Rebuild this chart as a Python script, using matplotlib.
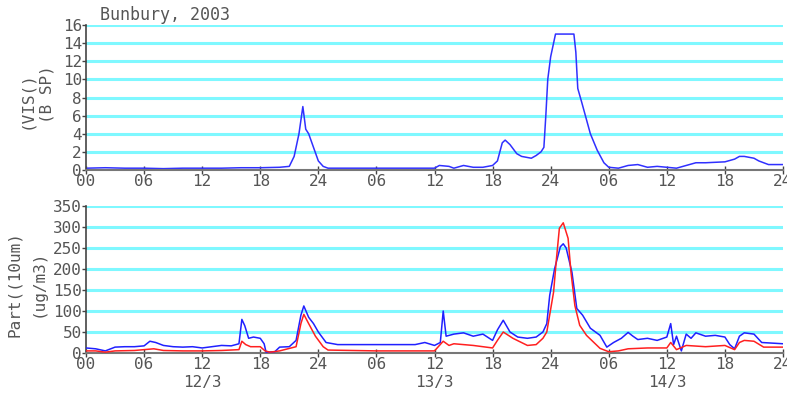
import matplotlib
matplotlib.use("Agg")
import matplotlib.pyplot as plt

# ---- data ----
vis_pts = [(0,0.2),(2,0.25),(4,0.2),(6,0.2),(8,0.15),(10,0.2),(12,0.2),(14,0.2),(16,0.25),(18,0.25),
           (20,0.3),(21,0.4),(21.5,1.5),(22,4),(22.4,7),(22.7,4.5),(23,4),(23.5,2.5),(24,1),(24.5,0.4),
           (25,0.2),(28,0.2),(32,0.2),(36,0.2),(36.5,0.5),(37.5,0.4),(38,0.2),(39,0.5),(40,0.3),(41,0.3),
           (42,0.5),(42.5,1),(43,3),(43.3,3.3),(43.8,2.8),(44.5,1.8),(45,1.5),(46,1.3),(46.5,1.6),(47,2.0),
           (47.3,2.5),(47.5,6),(47.7,10),(48,12.5),(48.3,14),(48.5,15),(50.4,15),(50.6,13),(50.8,9),
           (51.2,7.5),(52.1,4),(52.8,2.2),(53.5,0.8),(54,0.3),(55,0.2),(56,0.5),(57,0.6),(58,0.3),
           (59,0.4),(60,0.3),(61,0.2),(62,0.5),(63,0.8),(64,0.8),(66,0.9),(67,1.2),(67.5,1.5),(68,1.5),
           (69,1.3),(69.5,1.0),(70.5,0.6),(72,0.6)]

pm_blue_pts = [(0,12),(1,10),(2,5),(3,14),(4,15),(5,15),(6,17),(6.6,28),(7.2,25),(8,18),(9,15),(10,14),
               (11,15),(12,12),(13,15),(14,18),(15,17),(15.8,22),(16.1,80),(16.4,65),(16.8,35),(17.3,38),
               (18,35),(18.4,22),(18.6,2),(19.5,3),(20,14),(21,15),(21.7,30),(22.2,90),(22.5,112),(23,85),
               (23.5,70),(24,50),(24.8,25),(26,20),(30,20),(34,20),(35,25),(36,18),(36.6,25),(36.9,100),
               (37.2,40),(38,45),(39,48),(40,40),(41,45),(42,30),(42.5,55),(43.1,78),(43.8,50),(44.6,38),
               (45.6,35),(46.5,38),(47.2,50),(47.6,70),(47.9,137),(48.4,200),(49,253),(49.3,260),
               (49.6,250),(50.2,192),(50.7,106),(51.3,90),(52.1,59),(53.1,42),(53.8,14),(54.5,25),
               (55.3,35),(56,49),(56.5,40),(57,32),(58,35),(59,30),(60,38),(60.4,70),(60.7,20),(61,40),
               (61.5,5),(62,45),(62.5,35),(63,48),(64,40),(65,42),(66,38),(66.5,20),(67,10),(67.5,40),
               (68,48),(69,45),(69.8,25),(72,22)]

pm_red_pts = [(0,5),(1,5),(2,2),(3,5),(5,6),(6,8),(7,10),(8,6),(10,5),(12,5),(14,6),(15.8,8),(16.1,28),
              (16.5,20),(17,15),(18,15),(18.5,5),(19,2),(20,5),(21.7,15),(22.2,70),(22.5,92),(23,70),
              (23.7,40),(24.5,15),(25,7),(30,5),(36,5),(36.9,28),(37.5,18),(38,22),(40,18),(42,12),
              (42.5,30),(43.1,50),(44.1,35),(45.6,18),(46.5,20),(47.2,35),(47.6,50),(48.3,145),
              (48.6,225),(48.9,297),(49.3,310),(49.8,273),(50.1,192),(50.5,113),(51,66),(51.7,42),
              (53.1,11),(54,3),(55,5),(56,10),(58,12),(60,12),(60.4,25),(61,8),(62,18),(64,15),(66,18),
              (67,8),(67.5,25),(68,30),(69,28),(70,14),(72,14)]

hour_ticks = list(range(0, 73, 6))
hour_labels = ["00","06","12","18","24","06","12","18","24","06","12","18","24"]
day_labels = ["12/3", "13/3", "14/3"]
day_pos = [12, 36, 60]
title = "Bunbury, 2003"

def unzip(p):
    return [a for a, b in p], [b for a, b in p]

W, H = 787, 393
fig = plt.figure(figsize=(W/100, H/100), dpi=100)
fig.patch.set_facecolor("white")

FONT = "DejaVu Sans Mono"
FS = 11.5
TCOL = "#555555"
GRID = "#7ff8ff"

def style(ax, ymax, ystep):
    ax.set_xlim(0, 72)
    ax.set_ylim(0, ymax)
    for y in range(ystep, ymax + 1, ystep):
        ax.axhline(y, color=GRID, lw=2.2, zorder=0)
    ax.set_xticks(hour_ticks)
    ax.set_xticklabels(hour_labels, fontfamily=FONT, fontsize=FS, color=TCOL)
    ax.set_yticks(range(0, ymax + 1, ystep))
    ax.set_yticklabels([str(v) for v in range(0, ymax + 1, ystep)], fontfamily=FONT, fontsize=FS, color=TCOL)
    ax.tick_params(axis="x", direction="inout", length=6, width=1, color="#444444", pad=0)
    ax.tick_params(axis="y", direction="out", length=3, width=1, color="#444444", pad=0)
    for s in ["top", "right"]:
        ax.spines[s].set_visible(False)
    ax.spines["left"].set_color("#444444")
    ax.spines["bottom"].set_color("#777777")
    ax.spines["left"].set_linewidth(1.2)
    ax.spines["bottom"].set_linewidth(1.5)

def px(x0, y0, x1, y1):
    return [x0/W, 1 - y1/H, (x1 - x0)/W, (y1 - y0)/H]

ax1 = fig.add_axes(px(86, 25, 783, 170))
style(ax1, 16, 2)
t, v = unzip(vis_pts)
ax1.plot(t, v, color="#3030ff", lw=1.1)

ax2 = fig.add_axes(px(86, 206, 783, 353))
style(ax2, 350, 50)
t, v = unzip(pm_blue_pts)
ax2.plot(t, v, color="#2020ff", lw=1.1, zorder=3)
t, v = unzip(pm_red_pts)
ax2.plot(t, v, color="#ff2020", lw=1.1, zorder=4)

for p, lab in zip(day_pos, day_labels):
    ax2.annotate(lab, xy=(p, 0), xycoords=("data", "axes fraction"),
                 xytext=(0, -30), textcoords="offset pixels", ha="center", va="center",
                 fontfamily=FONT, fontsize=FS, color=TCOL, annotation_clip=False)

fig.text(100/W, 1 - 15/H, title, fontfamily=FONT, fontsize=12, color=TCOL, ha="left", va="center")

fig.text(27/W, 1 - 100/H, "(VIS()", rotation=90, fontfamily=FONT, fontsize=FS, color=TCOL, ha="center", va="center")
fig.text(47/W, 1 - 94/H, "(B SP)", rotation=90, fontfamily=FONT, fontsize=FS, color=TCOL, ha="center", va="center")
fig.text(15/W, 1 - 284/H, "Part((10um)", rotation=90, fontfamily=FONT, fontsize=FS, color=TCOL, ha="center", va="center")
fig.text(38/W, 1 - 283/H, "(ug/m3)", rotation=90, fontfamily=FONT, fontsize=FS, color=TCOL, ha="center", va="center")

fig.savefig("out.png", dpi=100, facecolor="white")
